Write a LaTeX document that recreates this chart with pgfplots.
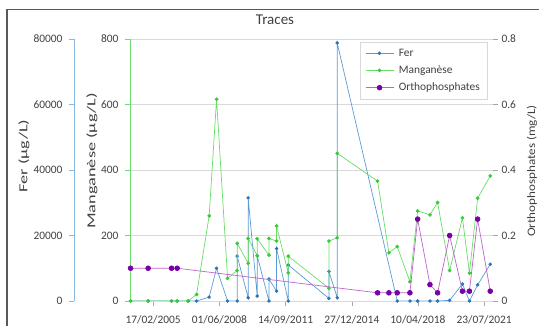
\documentclass[border=0pt]{standalone}
\usepackage{pgfplots}
\pgfplotsset{compat=1.18}
\usepackage{fontspec}
\setmainfont{Carlito}

\definecolor{ferline}{RGB}{91,155,213}
\definecolor{fermark}{RGB}{46,117,182}
\definecolor{mnline}{RGB}{102,221,102}
\definecolor{mnmark}{RGB}{60,200,60}
\definecolor{poline}{RGB}{190,100,205}
\definecolor{pomark}{RGB}{120,0,165}
\definecolor{feraxis}{RGB}{140,185,225}
\definecolor{mnaxis}{RGB}{110,220,110}
\definecolor{gridc}{RGB}{217,217,217}
\definecolor{axisc}{RGB}{166,166,166}
\definecolor{txt}{RGB}{64,64,64}

\pgfplotsset{
  base/.style={
    scale only axis, width=363pt, height=262pt,
    at={(130pt,25pt)}, anchor=south west,
    xmin=-420, xmax=6160,
    /pgf/number format/assume math mode=true,
    /pgf/number format/1000 sep={},
    scaled y ticks=false,
    tick label style={font=\fontsize{11.4}{13}\selectfont, text=txt},
    tick align=outside, major tick length=5pt,
  },
  ferstyle/.style={color=ferline, line width=0.7pt, mark=*, mark size=1.4pt,
    mark options={solid, fill=fermark, draw=fermark}},
  mnstyle/.style={color=mnline, line width=0.7pt, mark=*, mark size=1.5pt,
    mark options={solid, fill=mnmark, draw=mnmark}},
  postyle/.style={color=poline, line width=0.7pt, mark=*, mark size=2.4pt,
    mark options={solid, fill=pomark, draw=pomark}},
}

\begin{document}
\begin{tikzpicture}
\useasboundingbox (0,0) rectangle (539pt,326pt);
\draw[color=black!65, line width=1.3pt] (7pt,0pt) -- (7pt,316.5pt) -- (539pt,316.5pt);

% Fer data, grid and date axis
\begin{axis}[base, ymin=0, ymax=80000,
  axis x line*=bottom, axis y line*=left,
  x axis line style={draw=gridc},
  xtick={0,1200,2400,3600,4800,6000},
  xticklabels={17/02/2005,01/06/2008,14/09/2011,27/12/2014,10/04/2018,23/07/2021},
  xticklabel style={yshift=-6pt},
  x tick style={draw=axisc},
  ytick={0,20000,40000,60000,80000}, yticklabels={}, y tick style={draw=none},
  ymajorgrids, grid style={draw=gridc, line width=0.6pt},
]
\addplot[ferstyle] coordinates {
(-410,0) (-91,0) (334,0) (435,0) (635,0) (787,0) (1015,1200) (1149,10000)
(1349,0) (1523,0) (1523,13700) (1722,1000) (1722,31500) (1886,1500) (1886,13800)
(2098,0) (2098,6700) (2237,3000) (2237,16000) (2448,0) (2448,11000)
(3186,800) (3186,9000) (3336,1000) (3336,78800)
(4424,0) (4654,0) (4794,0) (5017,0) (5156,0) (5374,200) (5606,5200) (5733,0) (5881,4900) (6110,11200)
};
\end{axis}

% Manganese
\begin{axis}[base, ymin=0, ymax=800,
  axis y line*=left, axis x line=none, xtick=\empty,
  y axis line style={draw=mnaxis, line width=0.8pt},
  ytick={0,200,400,600,800}, y tick style={draw=mnaxis},
  yticklabel style={xshift=-3pt},
  ylabel={\scalebox{1.5}[1]{Manganèse (µg/L)}},
  ylabel style={at={(axis description cs:-0.105,0.534)}, anchor=center, font=\fontsize{12.2}{14}\selectfont, text=txt},
]
\addplot[mnstyle] coordinates {
(-410,0) (-91,0) (334,0) (435,0) (635,0) (787,20) (1015,260) (1149,616)
(1349,69) (1523,93) (1523,176) (1722,115) (1722,191) (1886,138) (1886,190)
(2098,140) (2098,191) (2237,183) (2237,229) (2448,86) (2448,137)
(3186,39) (3186,183) (3336,193) (3336,451) (4068,366) (4273,147) (4424,166)
(4654,59) (4794,275) (5017,263) (5156,301) (5374,93) (5606,254) (5733,85) (5881,314) (6110,382)
};
\end{axis}

% Fer scale
\begin{axis}[scale only axis, width=1pt, height=262pt, at={(74pt,25pt)}, anchor=south west,
  xmin=0, xmax=1, ymin=0, ymax=80000,
  axis y line*=left, axis x line=none, xtick=\empty,
  /pgf/number format/assume math mode=true,
  /pgf/number format/1000 sep={}, scaled y ticks=false,
  tick label style={font=\fontsize{11.4}{13}\selectfont, text=txt},
  yticklabel style={xshift=-3pt},
  tick align=outside, major tick length=5pt,
  ytick={0,20000,40000,60000,80000},
  y axis line style={draw=feraxis, line width=0.8pt}, y tick style={draw=feraxis},
  ylabel={\scalebox{1.5}[1]{Fer (µg/L)}},
  ylabel style={at={(axis description cs:-50,0.553)}, anchor=center, font=\fontsize{12.2}{14}\selectfont, text=txt},
]
\end{axis}

% Orthophosphates
\begin{axis}[base, ymin=0, ymax=0.8,
  axis y line*=right, axis x line=none, xtick=\empty,
  y axis line style={draw=none},
  ytick={0,0.2,0.4,0.6,0.8}, y tick style={draw=axisc},
  yticklabel style={/pgf/number format/fixed, /pgf/number format/precision=1},
  ylabel={\scalebox{1.15}[1]{Orthophosphates (mg/L)}},
  ylabel style={at={(axis description cs:1.107,0.496)}, anchor=center, font=\fontsize{11.4}{13}\selectfont, text=txt},
  legend style={at={(axis description cs:0.6336,0.9897)}, anchor=north west,
    draw=gridc, fill=white, font=\fontsize{11.4}{13}\selectfont, text=txt,
    inner xsep=5pt, inner ysep=5pt, row sep=4pt,
    /tikz/every odd column/.append style={column sep=3pt}},
  legend cell align=left,
  legend image code/.code={\draw[mark repeat=2,mark phase=2,#1] plot coordinates {(0pt,0pt) (14pt,0pt) (28pt,0pt)};},
]
\addlegendimage{ferstyle}
\addlegendentry{Fer}
\addlegendimage{mnstyle}
\addlegendentry{Manganèse}
\addplot[postyle] coordinates {
(-410,0.1) (-91,0.1) (334,0.1) (435,0.1)
(4068,0.025) (4273,0.025) (4424,0.025) (4654,0.025) (4794,0.25) (5017,0.05)
(5156,0.025) (5374,0.2) (5606,0.03) (5733,0.03) (5881,0.25) (6110,0.03)
};
\addlegendentry{Orthophosphates}
\end{axis}

\node[font=\fontsize{15}{18}\selectfont, text=txt] at (275pt,306pt) {Traces};
\end{tikzpicture}
\end{document}
